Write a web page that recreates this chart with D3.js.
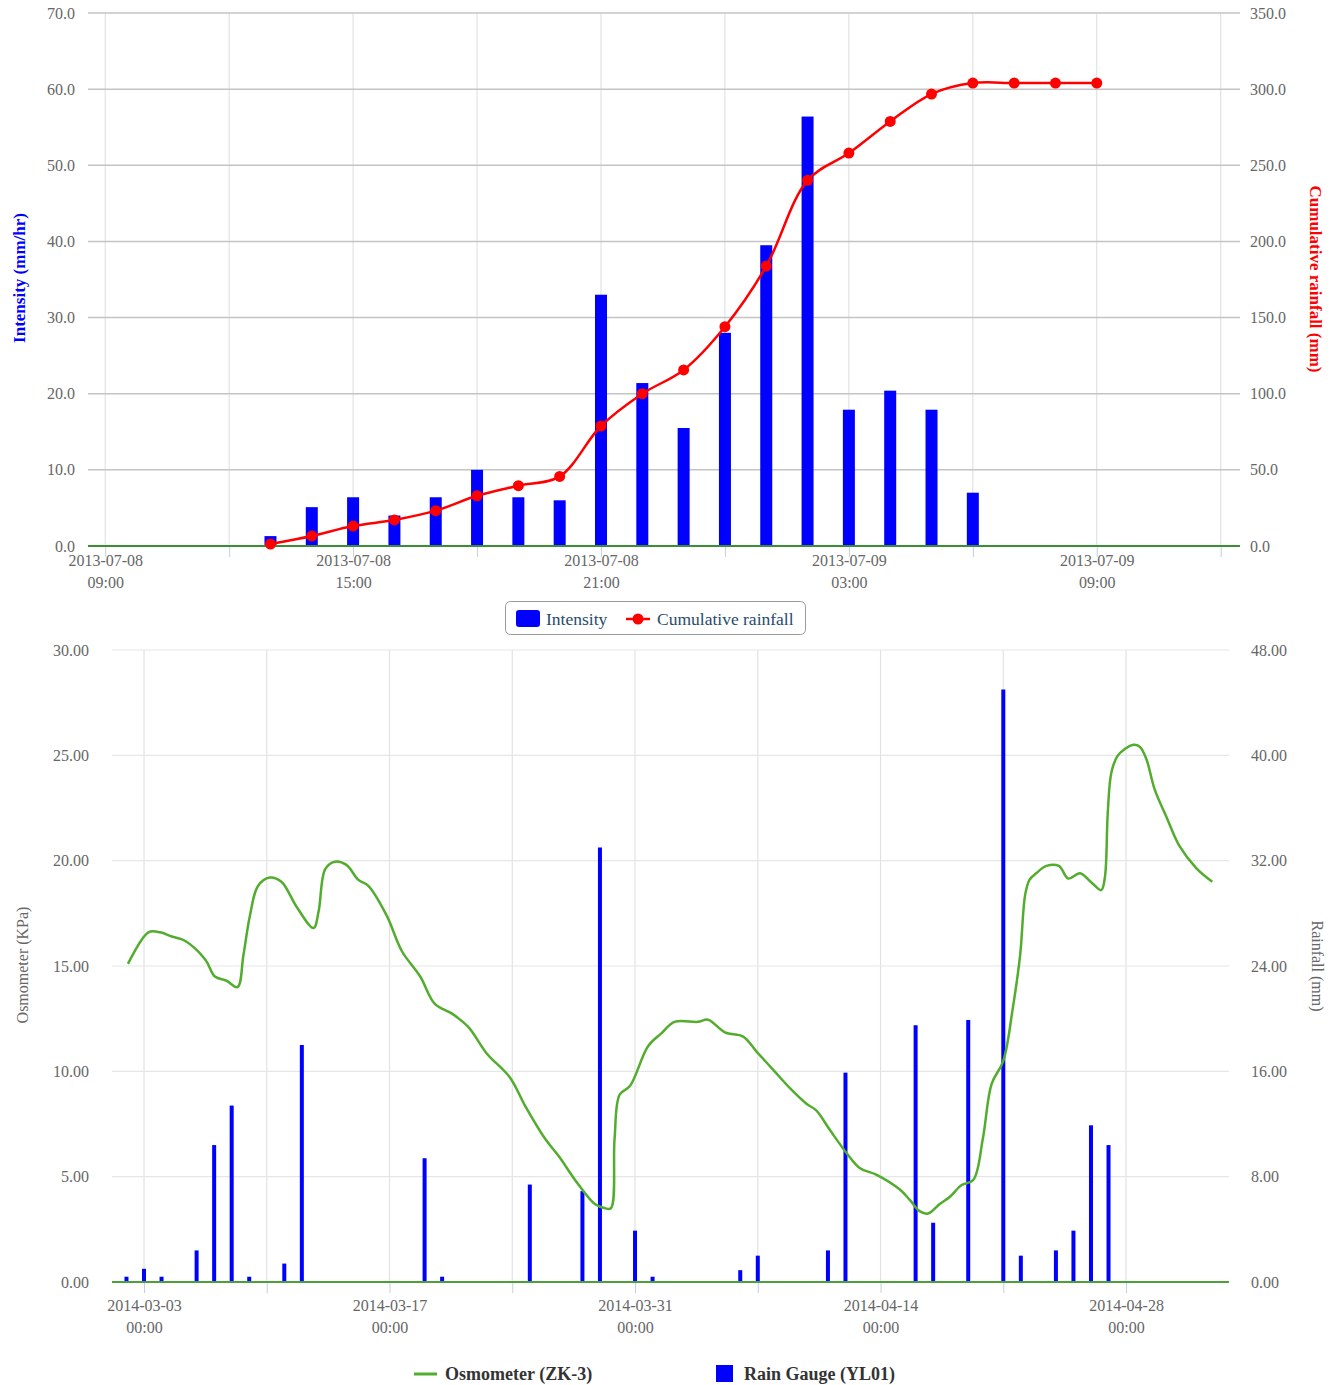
<html>
<head>
<meta charset="utf-8">
<style>
body { margin: 0; background: #fff; }
svg { font-family: "Liberation Serif", "Times New Roman", serif; }
.axis text { fill: #666; font-size: 16px; font-family: "Liberation Serif", "Times New Roman", serif; }
.axis path.domain { display: none; }
</style>
</head>
<body>
<div id="chart"></div>
<script src="https://d3js.org/d3.v7.min.js"></script>
<script>

// ---- data: storm of 2013-07-08 (hourly) ----
var stormHours = ["2013-07-08 13:00","2013-07-08 14:00","2013-07-08 15:00","2013-07-08 16:00",
  "2013-07-08 17:00","2013-07-08 18:00","2013-07-08 19:00","2013-07-08 20:00","2013-07-08 21:00",
  "2013-07-08 22:00","2013-07-08 23:00","2013-07-09 00:00","2013-07-09 01:00","2013-07-09 02:00",
  "2013-07-09 03:00","2013-07-09 04:00","2013-07-09 05:00","2013-07-09 06:00","2013-07-09 07:00",
  "2013-07-09 08:00","2013-07-09 09:00"];
var intensity = [1.3, 5.1, 6.4, 4.0, 6.4, 10.0, 6.4, 6.0, 33.0, 21.4, 15.5, 28.0, 39.5, 56.4, 17.9, 20.4, 17.9, 7.0];
var cumulative = [1.3, 6.6, 13.1, 17.1, 23.2, 33.0, 39.6, 45.7, 78.8, 100.0, 115.6, 144.0, 183.8, 240.1, 258.0, 278.8, 296.8, 304.0, 304.0, 304.0, 304.0];

var topLeftTicks = [0, 10, 20, 30, 40, 50, 60, 70];
var topRightTicks = [0, 50, 100, 150, 200, 250, 300, 350];

// ---- data: osmometer ZK-3 and rain gauge YL01 ----
var osmoTimes = ["2014-03-02 02:00","2014-03-03 06:00","2014-03-03 22:00","2014-03-04 14:00","2014-03-05 08:00",
  "2014-03-06 12:00","2014-03-07 01:00","2014-03-07 17:00","2014-03-08 08:00","2014-03-08 16:00",
  "2014-03-09 01:00","2014-03-09 12:00","2014-03-10 04:00","2014-03-10 20:00","2014-03-11 17:00",
  "2014-03-12 16:00","2014-03-12 23:00","2014-03-13 08:00","2014-03-13 21:00","2014-03-14 13:00",
  "2014-03-15 05:00","2014-03-15 19:00","2014-03-16 20:00","2014-03-17 17:00","2014-03-18 18:00",
  "2014-03-19 14:00","2014-03-20 13:00","2014-03-21 12:00","2014-03-22 13:00","2014-03-23 21:00",
  "2014-03-24 17:00","2014-03-25 21:00","2014-03-26 15:00","2014-03-27 18:00","2014-03-28 17:00",
  "2014-03-29 07:00","2014-03-29 15:00","2014-03-29 20:00","2014-03-30 03:00","2014-03-30 17:00",
  "2014-03-31 18:00","2014-04-01 12:00","2014-04-02 06:00","2014-04-03 14:00","2014-04-04 04:00",
  "2014-04-05 03:00","2014-04-06 04:00","2014-04-06 22:00","2014-04-07 23:00","2014-04-08 20:00",
  "2014-04-09 19:00","2014-04-10 08:00","2014-04-11 03:00","2014-04-12 02:00","2014-04-12 20:00",
  "2014-04-13 18:00","2014-04-15 02:00","2014-04-15 16:00","2014-04-16 06:00","2014-04-16 17:00",
  "2014-04-17 09:00","2014-04-17 23:00","2014-04-18 15:00","2014-04-19 07:00","2014-04-19 20:00",
  "2014-04-20 08:00","2014-04-21 00:00","2014-04-21 13:00","2014-04-21 23:00","2014-04-22 06:00",
  "2014-04-22 12:00","2014-04-22 21:00","2014-04-23 11:00","2014-04-24 04:00","2014-04-24 17:00",
  "2014-04-25 09:00","2014-04-26 01:00","2014-04-26 14:00","2014-04-26 19:00","2014-04-26 23:00",
  "2014-04-27 04:00","2014-04-27 13:00","2014-04-28 10:00","2014-04-28 19:00","2014-04-29 04:00",
  "2014-04-29 15:00","2014-04-30 07:00","2014-05-01 01:00","2014-05-02 00:00","2014-05-02 22:00"];
var osmoValues = [15.1, 16.6, 16.6, 16.4, 16.2,
  15.3, 14.5, 14.3, 14.0, 15.5,
  17.4, 18.8, 19.2, 19.0, 17.8,
  16.8, 17.6, 19.6, 19.95, 19.8,
  19.1, 18.8, 17.4, 15.7, 14.5,
  13.2, 12.75, 12.1, 10.85, 9.7,
  8.4, 6.8, 6.0, 4.65, 3.7,
  3.5, 3.5, 6.8, 8.9, 9.3,
  11.2, 11.8, 12.35, 12.35, 12.45,
  11.85, 11.65, 10.95, 10.0, 9.2,
  8.45, 8.15, 7.2, 6.1, 5.4,
  5.1, 4.4, 3.9, 3.35, 3.25,
  3.7, 4.05, 4.6, 4.85, 6.8,
  9.4, 10.5, 13.0, 15.5, 18.4,
  19.1, 19.4, 19.75, 19.75, 19.15,
  19.4, 18.95, 18.6, 19.2, 22.3,
  24.2, 25.0, 25.5, 25.4, 24.8,
  23.4, 22.1, 20.7, 19.65, 19.0];

var rainDays = ["2014-03-02","2014-03-03","2014-03-04","2014-03-06","2014-03-07","2014-03-08","2014-03-09",
  "2014-03-11","2014-03-12","2014-03-19","2014-03-20","2014-03-25","2014-03-28","2014-03-29","2014-03-31",
  "2014-04-01","2014-04-06","2014-04-07","2014-04-11","2014-04-12","2014-04-16","2014-04-17","2014-04-19",
  "2014-04-21","2014-04-22","2014-04-24","2014-04-25","2014-04-26","2014-04-27"];
var rainValues = [0.4, 1.0, 0.4, 2.4, 10.4, 13.4, 0.4,
  1.4, 18.0, 9.4, 0.4, 7.4, 6.9, 33.0, 3.9,
  0.4, 0.9, 2.0, 2.4, 15.9, 19.5, 4.5, 19.9,
  45.0, 2.0, 2.4, 3.9, 11.9, 10.4];

var botLeftTicks = [0, 5, 10, 15, 20, 25, 30];
var botRightTicks = [0, 8, 16, 24, 32, 40, 48];

var parseHour = d3.timeParse("%Y-%m-%d %H:%M");
var parseDay = d3.timeParse("%Y-%m-%d");

var svg = d3.select("#chart").append("svg")
    .attr("width", 1335)
    .attr("height", 1385);

function splitLabel(sel) {
  sel.selectAll(".tick text").each(function() {
    var t = d3.select(this), s = t.text();
    t.text(null);
    if (!s) return;
    var parts = s.split("|");
    t.append("tspan").attr("x", 0).attr("dy", "0.2em").text(parts[0]);
    t.append("tspan").attr("x", 0).attr("dy", "1.35em").text(parts[1]);
  });
}

// ================= TOP CHART =================
var top0 = 13, topBase = 546, left0 = 88, right0 = 1240;

var x = d3.scaleTime()
    .domain([new Date(2013, 6, 8, 8, 35), new Date(2013, 6, 9, 12, 28)])
    .range([left0, right0]);
var yL = d3.scaleLinear().domain([0, 70]).range([topBase, top0]);
var yR = d3.scaleLinear().domain([0, 350]).range([topBase, top0]);

var topXTicks = d3.timeHour.every(3).range(new Date(2013, 6, 8, 9), new Date(2013, 6, 9, 12, 1));

// vertical grid
svg.append("g").selectAll("line")
    .data(topXTicks)
    .enter().append("line")
      .attr("x1", function(d) { return x(d); })
      .attr("x2", function(d) { return x(d); })
      .attr("y1", top0).attr("y2", topBase)
      .style("stroke", "#dcdcdc").style("stroke-width", 1);

// horizontal grid
svg.append("g").selectAll("line")
    .data(topLeftTicks)
    .enter().append("line")
      .attr("x1", left0).attr("x2", right0)
      .attr("y1", function(d) { return yL(d); })
      .attr("y2", function(d) { return yL(d); })
      .style("stroke", "#c4c4c4").style("stroke-width", 1.5);

svg.append("g")
    .attr("class", "axis")
    .attr("transform", "translate(" + (left0 - 5) + ",0)")
    .call(d3.axisLeft(yL).tickValues(topLeftTicks).tickSize(0).tickPadding(8).tickFormat(d3.format(".1f")));

svg.append("g")
    .attr("class", "axis")
    .attr("transform", "translate(" + (right0 + 2) + ",0)")
    .call(d3.axisRight(yR).tickValues(topRightTicks).tickSize(0).tickPadding(8).tickFormat(d3.format(".1f")));

var topX = svg.append("g")
    .attr("class", "axis")
    .attr("transform", "translate(0," + topBase + ")")
    .call(d3.axisBottom(x).tickValues(topXTicks).tickSize(11).tickPadding(6)
      .tickFormat(function(d) { return d.getHours() % 6 === 3 ? d3.timeFormat("%Y-%m-%d|%H:%M")(d) : ""; }));
topX.selectAll(".tick line").style("stroke", "#c0d0e0");
splitLabel(topX);

// bars
svg.append("g").selectAll("rect")
    .data(intensity)
    .enter().append("rect")
      .attr("x", function(d, i) { return x(parseHour(stormHours[i])) - 6; })
      .attr("width", 12)
      .attr("y", function(d) { return yL(d); })
      .attr("height", function(d) { return topBase - yL(d); })
      .style("fill", "#0000ff");

// axis line
svg.append("line")
    .attr("x1", left0).attr("x2", right0)
    .attr("y1", topBase).attr("y2", topBase)
    .style("stroke", "#3a8f34").style("stroke-width", 2);

// cumulative line
var cumLine = d3.line()
    .x(function(d, i) { return x(parseHour(stormHours[i])); })
    .y(function(d) { return yR(d); })
    .curve(d3.curveCatmullRom.alpha(0.5));

svg.append("path")
    .datum(cumulative)
    .attr("d", cumLine)
    .style("fill", "none")
    .style("stroke", "#ff0000")
    .style("stroke-width", 2.5);

svg.append("g").selectAll("circle")
    .data(cumulative)
    .enter().append("circle")
      .attr("cx", function(d, i) { return x(parseHour(stormHours[i])); })
      .attr("cy", function(d) { return yR(d); })
      .attr("r", 5.5)
      .style("fill", "#ff0000");

// axis titles
svg.append("text")
    .attr("transform", "translate(19,278) rotate(-90)")
    .attr("dy", "0.35em")
    .style("text-anchor", "middle")
    .style("font-weight", "bold")
    .style("font-size", "17px")
    .style("fill", "#0000ff")
    .text("Intensity (mm/hr)");

svg.append("text")
    .attr("transform", "translate(1316,279) rotate(90)")
    .attr("dy", "0.35em")
    .style("text-anchor", "middle")
    .style("font-weight", "bold")
    .style("font-size", "17px")
    .style("fill", "#ff0000")
    .text("Cumulative rainfall (mm)");

// legend
var lg = svg.append("g");
lg.append("rect")
    .attr("x", 505.5).attr("y", 601.5).attr("width", 300).attr("height", 33)
    .attr("rx", 5)
    .style("fill", "#fff").style("stroke", "#999").style("stroke-width", 1);
lg.append("rect")
    .attr("x", 516).attr("y", 610).attr("width", 24).attr("height", 17).attr("rx", 3)
    .style("fill", "#0000ff");
lg.append("text").attr("x", 546).attr("y", 625)
    .style("font-size", "17.5px").style("fill", "#274b6d").text("Intensity");
lg.append("line").attr("x1", 626).attr("x2", 650).attr("y1", 619).attr("y2", 619)
    .style("stroke", "#ff0000").style("stroke-width", 2.5);
lg.append("circle").attr("cx", 638).attr("cy", 619).attr("r", 5.5).style("fill", "#ff0000");
lg.append("text").attr("x", 657).attr("y", 625)
    .style("font-size", "17.5px").style("fill", "#274b6d").text("Cumulative rainfall");

// ================= BOTTOM CHART =================
var bTop = 650, bBase = 1282, bLeft = 112, bRight = 1229;

var x2 = d3.scaleTime()
    .domain([new Date(2014, 2, 1, 4, 12), new Date(2014, 4, 3, 20, 53)])
    .range([bLeft, bRight]);
var y2L = d3.scaleLinear().domain([0, 30]).range([bBase, bTop]);
var y2R = d3.scaleLinear().domain([0, 48]).range([bBase, bTop]);

var botXTicks = d3.timeDay.every(1).range(new Date(2014, 2, 3), new Date(2014, 3, 29))
    .filter(function(d, i) { return i % 7 === 0; });

svg.append("g").selectAll("line")
    .data(botXTicks)
    .enter().append("line")
      .attr("x1", function(d) { return x2(d); })
      .attr("x2", function(d) { return x2(d); })
      .attr("y1", bTop).attr("y2", bBase)
      .style("stroke", "#e2e2e2").style("stroke-width", 1.2);

svg.append("g").selectAll("line")
    .data(botLeftTicks)
    .enter().append("line")
      .attr("x1", bLeft).attr("x2", bRight)
      .attr("y1", function(d) { return y2L(d); })
      .attr("y2", function(d) { return y2L(d); })
      .style("stroke", "#e6e6e6").style("stroke-width", 1.2);

svg.append("g")
    .attr("class", "axis")
    .attr("transform", "translate(" + (bLeft - 15) + ",0)")
    .call(d3.axisLeft(y2L).tickValues(botLeftTicks).tickSize(0).tickPadding(8).tickFormat(d3.format(".2f")));

svg.append("g")
    .attr("class", "axis")
    .attr("transform", "translate(" + (bRight + 14) + ",0)")
    .call(d3.axisRight(y2R).tickValues(botRightTicks).tickSize(0).tickPadding(8).tickFormat(d3.format(".2f")));

var botX = svg.append("g")
    .attr("class", "axis")
    .attr("transform", "translate(0," + bBase + ")")
    .call(d3.axisBottom(x2).tickValues(botXTicks).tickSize(11).tickPadding(15)
      .tickFormat(function(d, i) { return i % 2 === 0 ? d3.timeFormat("%Y-%m-%d|%H:%M")(d) : ""; }));
botX.selectAll(".tick line").style("stroke", "#c0d0e0");
splitLabel(botX);

svg.append("g").selectAll("rect")
    .data(rainValues)
    .enter().append("rect")
      .attr("x", function(d, i) { return x2(parseDay(rainDays[i])) - 2; })
      .attr("width", 4)
      .attr("y", function(d) { return y2R(d); })
      .attr("height", function(d) { return bBase - y2R(d); })
      .style("fill", "#0000ff");

var osmoLine = d3.line()
    .x(function(d, i) { return x2(parseHour(osmoTimes[i])); })
    .y(function(d) { return y2L(d); })
    .curve(d3.curveCatmullRom.alpha(0.5));

svg.append("path")
    .datum(osmoValues)
    .attr("d", osmoLine)
    .style("fill", "none")
    .style("stroke", "#52ad2e")
    .style("stroke-width", 2.5);

svg.append("line")
    .attr("x1", bLeft).attr("x2", bRight)
    .attr("y1", bBase).attr("y2", bBase)
    .style("stroke", "#4ca03a").style("stroke-width", 2);

svg.append("text")
    .attr("transform", "translate(22,965) rotate(-90)")
    .attr("dy", "0.35em")
    .style("text-anchor", "middle")
    .style("font-size", "16px")
    .style("fill", "#666")
    .text("Osmometer (KPa)");

svg.append("text")
    .attr("transform", "translate(1318,966) rotate(90)")
    .attr("dy", "0.35em")
    .style("text-anchor", "middle")
    .style("font-size", "16px")
    .style("fill", "#666")
    .text("Rainfall (mm)");

var lg2 = svg.append("g");
lg2.append("line").attr("x1", 414).attr("x2", 437).attr("y1", 1374).attr("y2", 1374)
    .style("stroke", "#52ad2e").style("stroke-width", 3);
lg2.append("text").attr("x", 445).attr("y", 1380)
    .style("font-size", "18px").style("font-weight", "bold").style("fill", "#333").text("Osmometer (ZK-3)");
lg2.append("rect").attr("x", 716).attr("y", 1365).attr("width", 17).attr("height", 17)
    .style("fill", "#0000ff");
lg2.append("text").attr("x", 744).attr("y", 1380)
    .style("font-size", "18px").style("font-weight", "bold").style("fill", "#333").text("Rain Gauge (YL01)");

</script>
</body>
</html>
